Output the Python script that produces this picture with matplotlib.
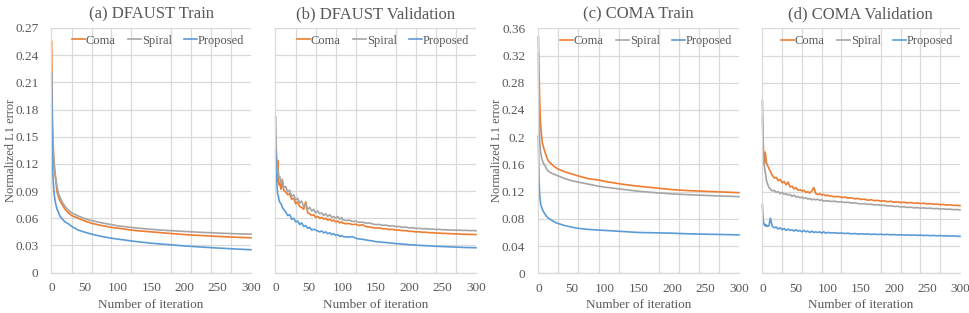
import numpy as np
import matplotlib
matplotlib.use('Agg')
import matplotlib.pyplot as plt

plt.rcParams['font.family'] = ['Liberation Serif', 'DejaVu Serif']

# iterations sampled for the smooth (train) curves
iters_train = [0, 1, 2, 3, 4, 5, 6, 8, 10, 12, 15, 20, 25, 30, 40, 50, 60, 75, 90,
               100, 125, 150, 175, 200, 225, 250, 275, 300]
# iterations sampled for the noisy (validation) curves
iters_val = [0, 1, 2, 3, 4, 5, 6, 8, 10] + list(range(12, 100, 3)) + list(range(100, 301, 5))

series_names = ['Coma', 'Spiral', 'Proposed']
titles = ['(a) DFAUST Train', '(b) DFAUST Validation', '(c) COMA Train', '(d) COMA Validation']

# (a) DFAUST train
dfaust_train_coma = [.255, .175, .145, .128, .117, .109, .103, .089, .084, .080, .076, .070, .066, .063,
                     .060, .057, .0545, .052, .050, .049, .0465, .045, .0435, .042, .041, .040, .0392, .0385]
dfaust_train_spiral = [.185, .150, .135, .125, .117, .110, .105, .095, .088, .084, .079, .073, .069, .066,
                       .0625, .0596, .0575, .0550, .053, .0516, .0495, .0478, .0465, .0455, .0445, .0437, .043, .0425]
dfaust_train_prop = [.220, .130, .105, .093, .085, .080, .076, .070, .067, .063, .060, .056, .054, .051,
                     .047, .0446, .0425, .040, .038, .037, .0345, .0325, .031, .0295, .0283, .0272, .0262, .0253]

# (b) DFAUST validation
dfaust_val_coma = [.128, .108, .100, .124, .104, .097, .099, .092, .103,
                   .091, .089, .086, .087, .081, .082, .076, .078, .073, .072, .070, .078, .066, .065, .063,
                   .064, .061, .062, .060, .061, .059, .060, .058, .059, .057, .058, .056, .057, .055, .056,
                   .0548, .0540, .0543, .0530, .0535, .0520, .0530, .0508, .0505, .0498, .0492, .0494, .0485,
                   .0484, .0476, .0478, .0470, .0470, .0463, .0464, .0456, .0456, .0450, .0451, .0446, .0446,
                   .0441, .0442, .0437, .0437, .0433, .0433, .0430, .0430, .0427, .0427, .0424, .0424, .0422,
                   .0422, .0420]
dfaust_val_spiral = [.172, .135, .121, .110, .112, .104, .106, .099, .101,
                     .094, .095, .089, .091, .084, .086, .080, .082, .077, .079, .073, .075, .070, .072, .068,
                     .070, .066, .068, .065, .066, .063, .065, .062, .064, .061, .062, .060, .062, .059, .061,
                     .0585, .0575, .0580, .0565, .0568, .0555, .0558, .0546, .0550, .0538, .0530, .0533, .0522,
                     .0525, .0515, .0518, .0508, .0510, .0500, .0503, .0494, .0496, .0488, .0490, .0484, .0486,
                     .0480, .0481, .0476, .0478, .0473, .0474, .0470, .0471, .0468, .0469, .0466, .0467, .0464,
                     .0465, .0463]
dfaust_val_prop = [.134, .108, .095, .087, .085, .080, .078, .076, .072,
                   .070, .067, .063, .064, .059, .060, .056, .057, .053, .055, .051, .052, .049, .050, .047,
                   .048, .047, .046, .045, .046, .044, .045, .043, .044, .042, .043, .041, .042, .040, .041,
                   .0400, .0395, .0392, .0398, .0380, .0372, .0368, .0362, .0355, .0350, .0342, .0340, .0335,
                   .0333, .0328, .0326, .0320, .0319, .0315, .0313, .0308, .0307, .0304, .0302, .0299, .0298,
                   .0295, .0294, .0291, .0290, .0288, .0287, .0285, .0284, .0282, .0281, .0279, .0278, .0277,
                   .0276, .0275]

# (c) COMA train
coma_train_coma = [.347, .300, .254, .225, .210, .200, .192, .184, .178, .172, .165, .160, .156, .153,
                   .149, .146, .143, .139, .137, .135, .131, .128, .1255, .123, .1215, .1205, .1195, .1185]
coma_train_spiral = [.323, .240, .195, .182, .175, .170, .166, .161, .158, .154, .150, .147, .145, .143,
                     .139, .136, .134, .131, .128, .1265, .1235, .1206, .1185, .1167, .1155, .1145, .1135, .1127]
coma_train_prop = [.2017, .140, .115, .105, .100, .097, .094, .090, .087, .084, .081, .078, .075, .073,
                   .070, .0678, .066, .0645, .0635, .063, .0615, .060, .0595, .059, .058, .0575, .057, .0565]

# (d) COMA validation
coma_val_coma = [.254, .200, .172, .160, .178, .174, .163, .158, .154,
                 .150, .144, .140, .141, .136, .138, .133, .135, .130, .134, .127, .128, .124, .126, .122,
                 .123, .121, .122, .119, .120, .118, .121, .126, .117, .116, .117, .115, .116, .114, .115,
                 .1140, .1135, .1125, .1130, .1115, .1120, .1105, .1110, .1095, .1100, .1085, .1090, .1075,
                 .1080, .1068, .1072, .1060, .1065, .1052, .1058, .1045, .1050, .1040, .1045, .1035, .1040,
                 .1030, .1034, .1025, .1030, .1020, .1024, .1015, .1018, .1008, .1012, .1003, .1006, .0998,
                 .1000, .0994]
coma_val_spiral = [.229, .185, .166, .158, .150, .145, .137, .131, .126,
                   .124, .121, .122, .119, .120, .117, .119, .116, .117, .115, .116, .113, .115, .112, .113,
                   .111, .112, .110, .111, .109, .110, .108, .109, .108, .109, .107, .108, .106, .107, .106,
                   .1065, .1055, .1060, .1048, .1052, .1040, .1045, .1032, .1036, .1025, .1020, .1024, .1012,
                   .1016, .1005, .1008, .0998, .1000, .0990, .0993, .0982, .0985, .0975, .0978, .0968, .0972,
                   .0962, .0966, .0958, .0961, .0955, .0957, .0950, .0953, .0945, .0948, .0940, .0943, .0935,
                   .0938, .0932]
coma_val_prop = [.101, .080, .073, .071, .072, .069, .071, .069, .070,
                 .081, .069, .067, .068, .065, .067, .064, .066, .063, .065, .063, .064, .062, .064, .062,
                 .063, .061, .063, .061, .062, .060, .062, .060, .061, .060, .061, .059, .061, .059, .060,
                 .0600, .0592, .0597, .0588, .0593, .0585, .0589, .0580, .0585, .0577, .0581, .0575, .0579,
                 .0572, .0576, .0570, .0574, .0568, .0572, .0566, .0569, .0563, .0567, .0561, .0565, .0559,
                 .0563, .0557, .0561, .0555, .0559, .0553, .0556, .0551, .0554, .0549, .0552, .0547, .0550,
                 .0545, .0543]

dfaust_yticks = [0, 0.03, 0.06, 0.09, 0.12, 0.15, 0.18, 0.21, 0.24, 0.27]
coma_yticks = [0, 0.04, 0.08, 0.12, 0.16, 0.2, 0.24, 0.28, 0.32, 0.36]
xtick_labels = [0, 50, 100, 150, 200, 250, 300]

colors = ['#ED7D31', '#A5A5A5', '#5B9BD5']
grid_c = '#D9D9D9'
text_c = '#595959'

panels = [
    (iters_train, [dfaust_train_coma, dfaust_train_spiral, dfaust_train_prop], dfaust_yticks, True),
    (iters_val, [dfaust_val_coma, dfaust_val_spiral, dfaust_val_prop], dfaust_yticks, False),
    (iters_train, [coma_train_coma, coma_train_spiral, coma_train_prop], coma_yticks, True),
    (iters_val, [coma_val_coma, coma_val_spiral, coma_val_prop], coma_yticks, False),
]
positions = [
    [0.0526, 0.1288, 0.2062, 0.782],
    [0.2835, 0.1288, 0.2072, 0.782],
    [0.5543, 0.1268, 0.2075, 0.7827],
    [0.7853, 0.1268, 0.2044, 0.7827],
]

fig = plt.figure(figsize=(9.7, 3.13), dpi=100)

for i, (xs, ys, yticks, show_ylab) in enumerate(panels):
    ax = fig.add_axes(positions[i])
    for name, y, c in zip(series_names, ys, colors):
        ax.plot(xs, y, color=c, lw=1.2, label=name, clip_on=False)

    ax.set_xlim(-1, 300)
    ax.set_ylim(0, yticks[-1])
    ax.set_yticks(yticks)
    ax.set_xticks(xtick_labels)
    ax.set_xticks(list(range(0, 301, 30)), minor=True)
    ax.grid(False)
    ax.grid(axis='y', which='major', color=grid_c, lw=0.9)
    ax.grid(axis='x', which='minor', color=grid_c, lw=0.9)
    ax.set_axisbelow(True)
    for s in ['top', 'right']:
        ax.spines[s].set_visible(False)
    for s in ['left', 'bottom']:
        ax.spines[s].set_color(grid_c)
        ax.spines[s].set_linewidth(0.9)
    ax.tick_params(which='both', length=0, colors=text_c, labelsize=9.5)
    ax.tick_params(axis='x', pad=7)
    ax.tick_params(axis='y', pad=9)
    if show_ylab:
        ax.set_yticklabels(['{:g}'.format(v) for v in yticks])
        ax.set_ylabel('Normalized L1 error', fontsize=9, color=text_c, labelpad=-1)
    else:
        ax.set_yticklabels([])
    ax.set_xlabel('Number of iteration', fontsize=9.5, color=text_c, labelpad=3)
    ax.set_title(titles[i], fontsize=12, color=text_c, pad=7)
    ax.legend(loc='upper right', ncol=3, frameon=False, fontsize=9,
              handlelength=1.0, handletextpad=0.08, columnspacing=1.0,
              borderaxespad=0.15, labelcolor=text_c)

fig.savefig('out.png', dpi=100, facecolor='white')
